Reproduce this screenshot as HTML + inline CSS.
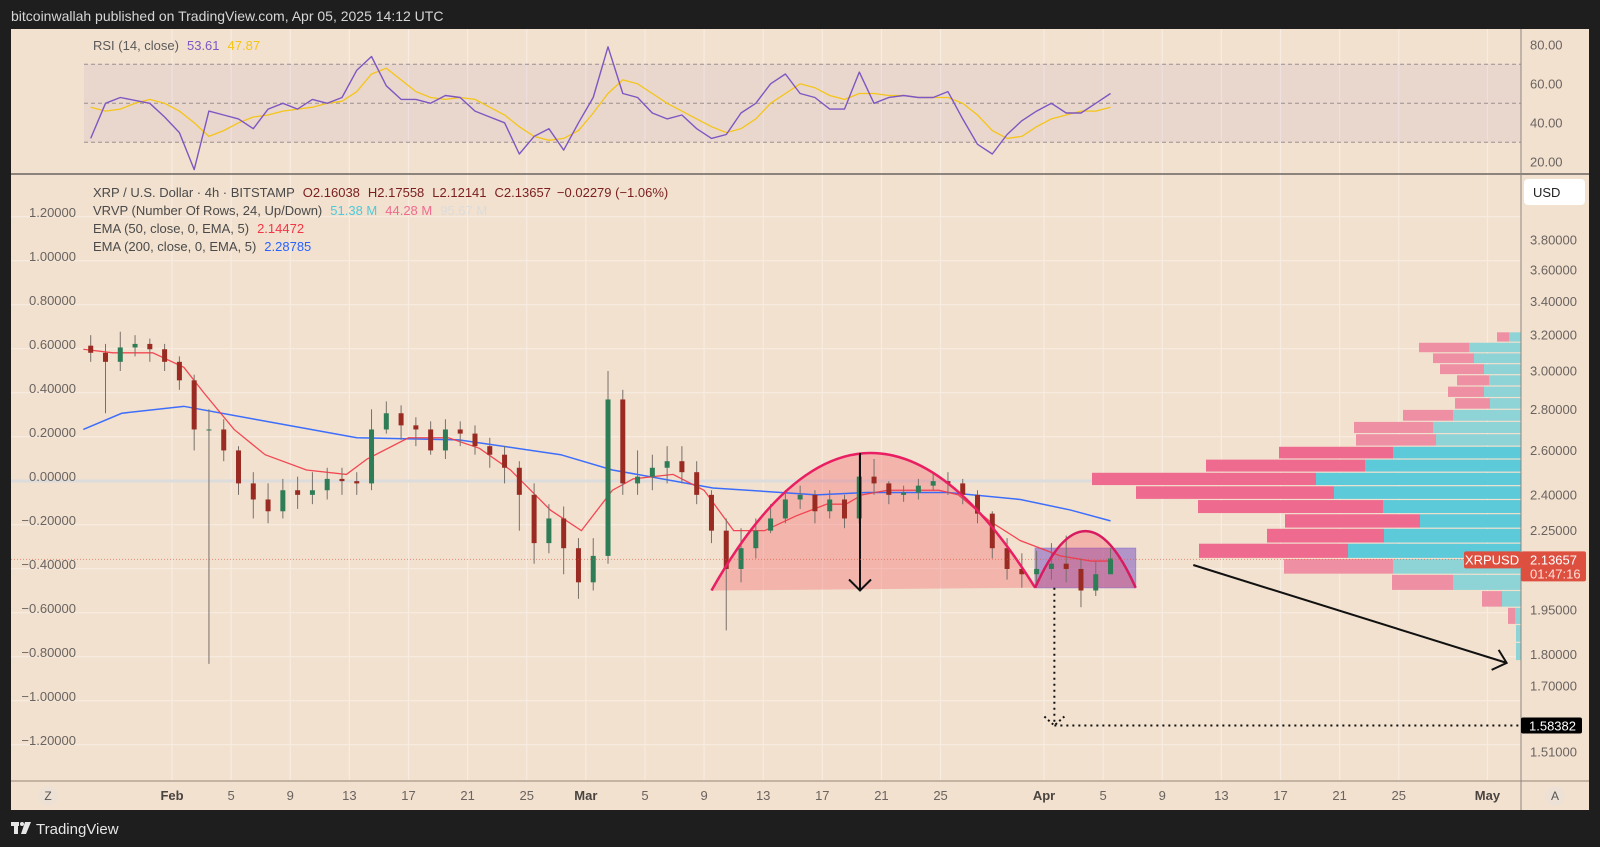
<!DOCTYPE html>
<html><head><meta charset="utf-8"><title>XRP/USD 4h chart</title>
<style>
html,body{margin:0;padding:0;background:#1e1e1e;}
svg{display:block;font-family:"Liberation Sans",sans-serif;}
</style></head>
<body>
<svg id="chart" width="1600" height="847" viewBox="0 0 1600 847" xmlns="http://www.w3.org/2000/svg">
  <rect x="0" y="0" width="1600" height="847" fill="#1e1e1e"/>
  <text x="11" y="21" font-size="14" fill="#d6d6d6">bitcoinwallah published on TradingView.com, Apr 05, 2025 14:12 UTC</text>
  <rect x="11" y="29" width="1578" height="781" fill="#f2e1cf"/>
  <g id="grid"></g>
  <g id="rsi"></g>
  <g id="main"></g>
  <g id="axes"></g>
  <g id="legend">
    <text x="93" y="50" font-size="13" fill="#5a5a5a">RSI (14, close)<tspan dx="8" fill="#7e57c2">53.61</tspan><tspan dx="8" fill="#f5c518">47.87</tspan></text>
    <text x="93" y="197" font-size="13" fill="#4a4a4a">XRP / U.S. Dollar · 4h · BITSTAMP<tspan dx="8" fill="#7a2020">O2.16038</tspan><tspan dx="8" fill="#7a2020">H2.17558</tspan><tspan dx="8" fill="#7a2020">L2.12141</tspan><tspan dx="8" fill="#7a2020">C2.13657</tspan><tspan dx="6" fill="#7a2020">−0.02279 (−1.06%)</tspan></text>
    <text x="93" y="215" font-size="13" fill="#4a4a4a">VRVP (Number Of Rows, 24, Up/Down)<tspan dx="8" fill="#4fc9d9">51.38 M</tspan><tspan dx="8" fill="#ef6b8f">44.28 M</tspan><tspan dx="8" fill="#dcdcdc">95.67 M</tspan></text>
    <text x="93" y="233" font-size="13" fill="#4a4a4a">EMA (50, close, 0, EMA, 5)<tspan dx="8" fill="#f23645">2.14472</tspan></text>
    <text x="93" y="251" font-size="13" fill="#4a4a4a">EMA (200, close, 0, EMA, 5)<tspan dx="8" fill="#2962ff">2.28785</tspan></text>
  </g>
  <g>
    <rect x="1524" y="179" width="61" height="26" rx="4" fill="#ffffff"/>
    <text x="1533" y="197" font-size="13" fill="#222">USD</text>
  </g>
  <g>
    <rect x="11" y="822" width="8" height="4" fill="#e6e6e6"/>
    <rect x="14" y="822" width="4" height="12" fill="#e6e6e6"/>
    <circle cx="22" cy="824" r="2" fill="#e6e6e6"/>
    <polygon points="25,822 31,822 26,834 21,834" fill="#e6e6e6"/>
    <text x="36" y="834" font-size="15" fill="#e6e6e6">TradingView</text>
  </g>
</svg>
<script>
const NS = "http://www.w3.org/2000/svg";
// ---------- DATA ----------
const firstDay = -6; // Jan 26 relative to Feb 1
const firstOpen = [3.14];
const closes = [3.10,3.05,3.13,3.15,3.12,3.05, 2.95,2.70,2.70,2.60,2.45,2.38,2.33,2.42,2.40,2.42, 2.47,2.46,2.45,2.70,2.78,2.72,2.70,2.60,2.70,2.68, 2.62,2.58,2.52,2.40,2.20,2.30,2.18,2.05,2.15,2.85, 2.45,2.48,2.52,2.55,2.50,2.40,2.25,2.10,2.18,2.25, 2.30,2.38,2.40,2.33,2.38,2.30,2.48,2.45,2.40,2.41, 2.44,2.46,2.45,2.40,2.32,2.18,2.10,2.08,2.10,2.12, 2.10,2.02,2.08,2.14];
const highs = [3.20,3.15,3.22,3.20,3.18,3.15, 3.08,2.98,2.80,2.75,2.62,2.50,2.45,2.47,2.48,2.50, 2.52,2.52,2.50,2.80,2.84,2.82,2.76,2.74,2.75,2.74, 2.72,2.66,2.62,2.55,2.45,2.36,2.35,2.22,2.22,3.00, 2.90,2.60,2.58,2.62,2.62,2.55,2.42,2.30,2.26,2.30, 2.36,2.42,2.44,2.42,2.42,2.40,2.58,2.56,2.46,2.44, 2.47,2.50,2.50,2.47,2.42,2.33,2.22,2.16,2.17,2.20, 2.23,2.14,2.13,2.18];
const lows = [3.05,2.78,3.00,3.08,3.05,3.00, 2.90,2.60,1.77,2.55,2.40,2.30,2.28,2.30,2.34,2.36, 2.38,2.40,2.40,2.42,2.68,2.65,2.62,2.58,2.56,2.62, 2.58,2.52,2.45,2.25,2.12,2.16,2.08,1.99,2.02,2.12, 2.40,2.40,2.42,2.45,2.45,2.36,2.20,1.88,2.05,2.14, 2.24,2.28,2.34,2.28,2.30,2.26,2.28,2.40,2.36,2.37, 2.38,2.42,2.40,2.36,2.28,2.14,2.06,2.03,2.04,2.06, 2.05,1.96,2.00,2.10];
const rsiVals = [32,50,53,51.5,50,43, 35,16,46,44,42,37,47,50,47,52, 50,53,67,74,59,52,52,50,54,53, 46,43,40,24,33,37,26,40,53,79, 55,53,45,42,44,37,32,34,45,50, 60,65,55,53,47,47,66,50,53,54, 53,53,56,42,29,24,34,41,46,50, 45,45,50,55];
const rsiMA = [48,46,47,50,52,50, 46,40,33,36,40,43,44,46,47,48, 50,51,56,65,68,62,56,53,52,53, 52,48,44,38,33,31,32,36,45,55, 62,60,55,50,46,42,38,35,37,42, 50,55,60,58,54,52,55,55,54,54, 53,53,53,50,44,36,32,33,38,42, 44,46,46,48];
const ema50Days = [-6,-4,-1.3,0.8,2.2,4.2,6.3,9.1,11.8,13.2,16,18.7,20.8,22.9,25.6,27.7,29.8,31.2,33.9,36,38,40.1,42.2,44.3,45.6,46.7,48.4,51.9,53.2,55.3,57.4,60.1,62.2,63.5];
const ema50Vals = [3.12,3.10,3.10,3.02,2.88,2.70,2.58,2.51,2.49,2.56,2.66,2.66,2.61,2.51,2.335,2.25,2.42,2.47,2.49,2.42,2.25,2.25,2.31,2.36,2.36,2.40,2.42,2.42,2.40,2.29,2.21,2.15,2.13,2.13];
const ema200Days = [-6,-3.4,0.8,5.6,12.5,19.4,26.3,29.8,36.6,43.6,47,52.5,57.4,60.8,63.5];
const ema200Vals = [2.70,2.78,2.815,2.75,2.66,2.65,2.58,2.51,2.43,2.40,2.41,2.41,2.38,2.335,2.29];
const vpTop = 3.22, vpStep = 0.06;
const vpUp =   [12,52,47,37,32,37,31,68,88,85,128,156,205,187,138,101,137,173,128,68,19,6,5,5];
const vpDown = [12,50,41,44,32,36,35,50,79,80,114,159,224,198,185,135,117,149,109,61,20,7,0,0];
const vpValueArea = [10,17];
const timeTickDays = [0,4,8,12,16,20,24,28,32,36,40,44,48,52,59,63,67,71,75,79,83,89];
const timeTickLabels = ["Feb","5","9","13","17","21","25","Mar","5","9","13","17","21","25","Apr","5","9","13","17","21","25","May"];
const priceTicks = [3.8,3.6,3.4,3.2,3.0,2.8,2.6,2.4,2.25,1.95,1.8,1.7,1.51];
const leftTicks = [1.2,1.0,0.8,0.6,0.4,0.2,0,-0.2,-0.4,-0.6,-0.8,-1.0,-1.2];
const rsiTicks = [80,60,40,20];
const lastPrice = 2.13657;
const targetPrice = 1.58382;

// ---------- SCALES ----------
const X0 = 172, DW = 14.78;
const xDay = d => X0 + d * DW;
const yP = p => 239.8 + (1.335 - Math.log(p)) * 555;
const yR = r => 103.3 - (r - 50) * 1.95;
const yL = v => 476.7 - v * 220;
const AXIS_X = 1521;

function el(tag, attrs, parent){
  const e = document.createElementNS(NS, tag);
  for (const k in attrs) e.setAttribute(k, attrs[k]);
  parent.appendChild(e);
  return e;
}
const grid = document.getElementById('grid');
const rsiG = document.getElementById('rsi');
const mainG = document.getElementById('main');
const axes = document.getElementById('axes');

timeTickDays.forEach(d=>{
  const g = el('line',{x1:xDay(d),x2:xDay(d),y1:29,y2:781,stroke:'#f7ece1','stroke-width':1.2},grid);
  
  
});
leftTicks.forEach(v=>{
  const g = el('line',{x1:11,x2:AXIS_X,y1:yL(v)+4,y2:yL(v)+4,stroke:'#f7ece1','stroke-width':1.2},grid);
  
  
});

const band = el('rect',{x:84,y:yR(70),width:AXIS_X-84,height:yR(30)-yR(70),fill:'#7e57c2','fill-opacity':0.08},rsiG);


[70,50,30].forEach(l=>{
  const ln = el('line',{x1:84,x2:AXIS_X,y1:yR(l),y2:yR(l),stroke:'#9a9090','stroke-width':1,'stroke-dasharray':'4 3'},rsiG);
  
  
});
const rsiMAPts = rsiMA.map((v,i)=>xDay(firstDay+i+0.5).toFixed(1)+','+yR(v).toFixed(1)).join(' ');
const rsiMAL = el('polyline',{points:rsiMAPts,fill:'none',stroke:'#f5c518','stroke-width':1.3},rsiG);


const rsiPts = rsiVals.map((v,i)=>xDay(firstDay+i+0.5).toFixed(1)+','+yR(v).toFixed(1)).join(' ');
const rsiL = el('polyline',{points:rsiPts,fill:'none',stroke:'#7e57c2','stroke-width':1.4,'stroke-linejoin':'round'},rsiG);



const sep1 = el('line',{x1:11,x2:1589,y1:174,y2:174,stroke:'#6b6460','stroke-width':1.5},axes);


const sep2 = el('line',{x1:11,x2:1589,y1:781,y2:781,stroke:'#c4b3a3','stroke-width':2},axes);


const sep3 = el('line',{x1:AXIS_X,x2:AXIS_X,y1:29,y2:810,stroke:'#8d8580','stroke-width':1},axes);



const ray = el('line',{x1:11,x2:AXIS_X,y1:481,y2:481,stroke:'#dcdcdc','stroke-width':3},mainG);



for (let i=0;i<vpUp.length;i++){
  const maxT = Math.max(...vpUp.map((u,j)=>u+vpDown[j]));
  const sc = 429/maxT;
  const pHi = vpTop - vpStep*i, pLo = vpTop - vpStep*(i+1);
  const y1 = yP(pHi)+0.6, y2 = yP(pLo)-0.6;
  const dark = i>=vpValueArea[0] && i<=vpValueArea[1];
  const upW = vpUp[i]*sc, dnW = vpDown[i]*sc;
  const r1 = el('rect',{x:AXIS_X-upW-dnW,y:y1,width:dnW,height:y2-y1,fill:dark?'#ef6a8f':'#ee8fa3'},mainG);
  
  
  const r2 = el('rect',{x:AXIS_X-upW,y:y1,width:upW,height:y2-y1,fill:dark?'#5ccad8':'#8ed3d5'},mainG);
  
  
}

const cupL = [36.5,2.02], cupApex=[47.0,2.588], cupR=[58.4,2.03];
const ctrlY = 2*yP(cupApex[1]) - (yP(cupL[1])+yP(cupR[1]))/2;
const cupD = `M${xDay(cupL[0])},${yP(cupL[1])} Q${xDay(cupApex[0])},${ctrlY} ${xDay(cupR[0])},${yP(cupR[1])} Z`;
const cupFill = el('path',{d:cupD,fill:'#f23645','fill-opacity':0.26,stroke:'none'},mainG);


const rectD = [58.4,65.2,2.18,2.03];
const box = el('rect',{x:xDay(rectD[0]),y:yP(rectD[2]),width:xDay(rectD[1])-xDay(rectD[0]),height:yP(rectD[3])-yP(rectD[2]),fill:'#7e57c2','fill-opacity':0.55,stroke:'#9c86cf','stroke-width':1},mainG);


const sL=[58.4,2.03], sA=[61.8,2.248], sR=[65.2,2.03];
const sCtrl = 2*yP(sA[1]) - (yP(sL[1])+yP(sR[1]))/2;
const smallD = `M${xDay(sL[0])},${yP(sL[1])} Q${xDay(sA[0])},${sCtrl} ${xDay(sR[0])},${yP(sR[1])}`;
const smallFill = el('path',{d:smallD+' Z',fill:'#f23645','fill-opacity':0.26},mainG);



const e200 = el('polyline',{points:ema200Days.map((d,i)=>xDay(d)+','+yP(ema200Vals[i])).join(' '),fill:'none',stroke:'#2962ff','stroke-width':1.5,'stroke-opacity':0.9},mainG);


const e50 = el('polyline',{points:ema50Days.map((d,i)=>xDay(d)+','+yP(ema50Vals[i])).join(' '),fill:'none',stroke:'#f23645','stroke-width':1.3,'stroke-opacity':0.9},mainG);



closes.forEach((c,i)=>{
  const o = i===0 ? firstOpen[0] : closes[i-1];
  const cx = xDay(firstDay+i+0.5);
  const up = c>=o;
  const w = el('line',{x1:cx,x2:cx,y1:yP(highs[i]),y2:yP(lows[i]),stroke:'#77706a','stroke-width':1},mainG);
  
  
  const top = yP(Math.max(o,c)), bot = yP(Math.min(o,c));
  const b = el('rect',{x:cx-2.5,y:top,width:5,height:Math.max(1,bot-top),fill:up?'#2f7d57':'#9a2b22'},mainG);
  
  
});

const cupStroke = el('path',{d:`M${xDay(cupL[0])},${yP(cupL[1])} Q${xDay(cupApex[0])},${ctrlY} ${xDay(cupR[0])},${yP(cupR[1])}`,fill:'none',stroke:'#e91e63','stroke-width':2.5},mainG);


const smallStroke = el('path',{d:smallD,fill:'none',stroke:'#d81b60','stroke-width':2.5},mainG);



const vaDay = 46.55;
const va = el('line',{x1:xDay(vaDay),x2:xDay(vaDay),y1:yP(2.588),y2:yP(2.02),stroke:'#111','stroke-width':2},mainG);


const vah = el('polyline',{points:`${xDay(vaDay)-11},${yP(2.02)-11} ${xDay(vaDay)},${yP(2.02)} ${xDay(vaDay)+11},${yP(2.02)-11}`,fill:'none',stroke:'#111','stroke-width':2},mainG);



const tDay = 59.7;
const dv = el('line',{x1:xDay(tDay),x2:xDay(tDay),y1:yP(2.03),y2:yP(targetPrice),stroke:'#111','stroke-width':2,'stroke-dasharray':'2 4'},mainG);


const dh = el('line',{x1:xDay(tDay),x2:AXIS_X,y1:yP(targetPrice),y2:yP(targetPrice),stroke:'#111','stroke-width':2,'stroke-dasharray':'2 4'},mainG);


const dhh = el('polyline',{points:`${xDay(tDay)-10},${yP(targetPrice)-9} ${xDay(tDay)},${yP(targetPrice)} ${xDay(tDay)+10},${yP(targetPrice)-9}`,fill:'none',stroke:'#111','stroke-width':2,'stroke-dasharray':'2 3'},mainG);



const ta = [69.1,2.115,90.3,1.773];
const tl = el('line',{x1:xDay(ta[0]),y1:yP(ta[1]),x2:xDay(ta[2]),y2:yP(ta[3]),stroke:'#111','stroke-width':2},mainG);


const tx = xDay(ta[2]), ty = yP(ta[3]);
const th = el('polyline',{points:`${tx-8},${ty-13} ${tx},${ty} ${tx-15},${ty+7}`,fill:'none',stroke:'#111','stroke-width':2},mainG);



const lp = el('line',{x1:11,x2:AXIS_X,y1:yP(lastPrice),y2:yP(lastPrice),stroke:'#e0533f','stroke-width':1,'stroke-dasharray':'1 2','stroke-opacity':0.6},mainG);



function txt(x,y,s,size,fill,anchor,weight,parent){
  const t = el('text',{x:x,y:y,'font-size':size,fill:fill,'text-anchor':anchor||'start','font-weight':weight||'normal'},parent);
  t.textContent = s;
  return t;
}
priceTicks.forEach(p=>{
  const t = txt(1530,yP(p)+4.5,p.toFixed(5),13,'#6a6360','start','normal',axes);
  
  
});
leftTicks.forEach(v=>{
  const t = txt(76,yL(v)+4.5,(v<0?'−':'')+Math.abs(v).toFixed(5),13,'#6a6360','end','normal',axes);
  
  
});
rsiTicks.forEach(r=>{
  const t = txt(1530,yR(r)+4.5,r.toFixed(2),13,'#6a6360','start','normal',axes);
  
  
});
timeTickDays.forEach((d,i)=>{
  const lab = timeTickLabels[i];
  const bold = isNaN(+lab);
  const t = txt(xDay(d),800,lab,13,bold?'#4a4440':'#6a6360','middle',bold?'bold':'normal',axes);
  
  
});

const lpl = el('rect',{x:1464,y:yP(lastPrice)-8,width:57,height:17,rx:2,fill:'#dd5040'},axes);


const lplt = txt(1492,yP(lastPrice)+5,'XRPUSD',13,'#ffffff','middle','normal',axes);


const lpr = el('rect',{x:AXIS_X,y:yP(lastPrice)-8,width:65,height:30,rx:2,fill:'#dd5040'},axes);


const lprt = txt(1530,yP(lastPrice)+5,lastPrice.toFixed(5),13,'#ffffff','start','normal',axes);


const cd = txt(1530,yP(lastPrice)+19,'01:47:16',13,'#ffe0da','start','normal',axes);


const tpl = el('rect',{x:AXIS_X,y:yP(targetPrice)-8,width:61,height:16,rx:2,fill:'#000000'},axes);


const tplt = txt(1529,yP(targetPrice)+5,targetPrice.toFixed(5),13,'#ffffff','start','normal',axes);



const zc = el('circle',{cx:48,cy:796,r:10,fill:'#ede0d4'},axes);


const zt = txt(48,800,'Z',12,'#555','middle','normal',axes);


const ac = el('circle',{cx:1555,cy:796,r:10,fill:'#ede0d4'},axes);


const at = txt(1555,800,'A',12,'#555','middle','normal',axes);


</script>
</body></html>
